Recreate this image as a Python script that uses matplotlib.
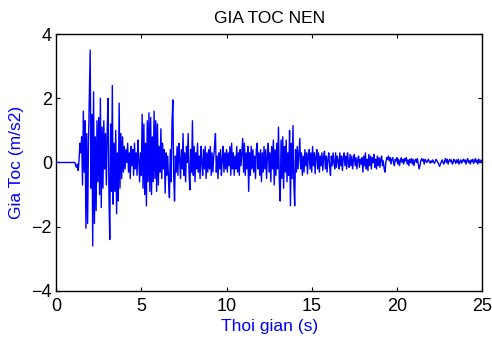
import numpy as np
import matplotlib
matplotlib.use('Agg')
import matplotlib.pyplot as plt

dt = 0.05
acc = [
    # 0 - 1 s
    0, 0, 0, 0, 0, 0, 0, 0, 0, 0, 0, 0, 0, 0, 0, 0, 0, 0, 0, 0,
    # 1 - 2 s
    0, 0, 0, -0.1, -0.15, -0.05, -0.25, 0.1, 0.6, 0.3, 0.8, -0.7, 1.6, -0.3, 1.3, -2.05, 0.9, -1.9, 0.6, 2.1,
    # 2 - 3 s
    3.5, -0.8, 1.5, -2.6, 2.2, -1.9, 0.8, -1.5, 1.3, -0.6, 1.4, -1.0, 2.0, -1.4, 1.1, -0.8, 1.3, -0.2, 0.9, -0.7,
    # 3 - 4 s
    1.0, 2.0, -1.0, -2.4, 1.2, -0.9, 2.4, -1.3, 0.6, -0.9, 1.0, -1.6, 0.3, -1.2, 1.85, -0.8, 0.9, -0.5, 0.8, -0.3,
    # 4 - 5 s
    0.5, -0.2, 0.4, 0.0, 0.6, -0.3, 0.3, -0.5, 0.5, -0.1, 0.4, -0.4, 0.6, -0.2, 0.3, -0.4, 0.7, 0.1, -0.6, 0.3,
    # 5 - 6 s
    -0.4, 1.5, -0.8, 1.2, -1.0, 0.6, -1.35, 1.3, -0.6, 1.55, -0.9, 1.4, -1.0, 0.8, -0.6, 1.6, -0.5, 1.3, -0.9, 1.2,
    # 6 - 7 s
    -0.7, 0.5, -0.3, 1.05, -0.5, 0.6, -0.2, 0.4, -0.95, 0.3, -0.4, 0.2, -0.6, -1.1, 0.4, -0.6, 1.2, 1.95, -0.4, -1.2,
    # 7 - 8 s
    0.2, -0.3, 0.5, -0.4, 0.6, 0.1, -0.5, 0.4, -0.2, 0.9, -0.4, 0.3, -0.6, 0.5, 0.0, 0.9, -0.3, -0.85, 0.4, -0.3,
    # 8 - 9 s
    1.3, -0.4, 0.5, -0.6, 0.3, -0.2, 0.6, -0.3, 0.2, -0.5, 0.5, 0.0, -0.4, 0.4, -0.2, 0.5, -0.5, 0.3, -0.3, 0.4,
    # 9 - 10 s
    -0.2, 0.5, -0.4, 0.3, -0.3, 0.2, 0.5, 0.9, -0.3, 0.2, -0.5, 0.3, -0.2, 0.4, -0.4, 0.1, 0.5, -0.3, 0.3, -0.2,
    # 10 - 11 s
    0.4, -0.3, 0.3, -0.1, 0.5, -0.4, 0.6, -0.2, 0.3, -0.4, 0.2, -0.2, 0.5, -0.3, 0.3, -0.4, 0.4, -0.1, 0.3, 0.75,
    # 11 - 12 s
    -0.3, 0.6, -0.4, 0.3, -0.2, 0.5, -0.9, 0.3, -0.4, 0.5, -0.2, 0.4, -0.3, 0.2, -0.5, 0.4, 0.6, -0.2, 0.3, -0.4,
    # 12 - 13 s
    0.4, -0.6, 0.3, -0.3, 0.5, -0.2, 0.4, -0.5, 0.2, 0.6, -0.3, 0.3, -0.6, 0.5, -0.2, 0.7, -0.7, 0.4, -0.4, 0.6,
    # 13 - 14 s
    -0.2, 1.1, -0.6, -1.2, 0.7, -0.5, 0.8, -0.8, 0.5, -0.3, 0.7, -0.6, 0.3, -0.4, 1.0, -1.35, 0.6, -0.5, 1.15, -0.6,
    # 14 - 15 s
    -1.35, 0.4, -0.3, 0.5, -0.2, 0.3, 0.75, -0.2, 0.3, -0.4, 0.2, -0.3, 0.4, -0.1, 0.3, -0.35, 0.2, 0.4, -0.2, 0.3,
    # 15 - 16 s
    -0.3, 0.5, -0.1, 0.3, -0.35, 0.2, 0.4, -0.2, 0.3, -0.3, 0.2, -0.1, 0.3, -0.25, 0.2, 0.35, -0.2, 0.2, -0.3, 0.1,
    # 16 - 17 s
    0.3, -0.1, -0.4, 0.2, -0.1, 0.3, 0.0, -0.2, 0.3, -0.15, 0.2, 0.05, -0.2, 0.3, -0.1, 0.2, -0.25, 0.15, 0.3, -0.1,
    # 17 - 18 s
    0.2, -0.2, 0.3, 0.0, -0.15, 0.25, -0.1, 0.2, -0.2, 0.1, 0.25, -0.1, 0.15, -0.2, 0.1, 0.2, -0.15, 0.1, -0.05, 0.15,
    # 18 - 19 s
    -0.3, 0.2, -0.1, 0.3, -0.2, 0.1, -0.25, 0.25, -0.1, 0.2, -0.2, 0.15, 0.0, 0.25, -0.15, 0.1, -0.2, 0.2, -0.1, 0.15,
    # 19 - 20 s
    -0.15, 0.1, 0.2, -0.1, 0.05, -0.2, -0.3, 0.0, 0.15, 0.1, 0.2, 0.05, 0.15, -0.05, 0.1, 0.15, 0.0, -0.1, 0.1, 0.05,
    # 20 - 21 s
    0.15, -0.05, 0.1, -0.1, 0.05, 0.15, 0.0, 0.1, -0.05, 0.12, 0.05, 0.15, -0.05, 0.08, -0.1, 0.1, 0.0, 0.12, -0.05, 0.1,
    # 21 - 22 s
    -0.1, 0.05, 0.1, 0.0, 0.12, -0.05, -0.2, -0.1, 0.05, 0.12, 0.05, 0.1, -0.05, 0.1, 0.05, 0.0, 0.05, 0.1, 0.02, -0.02,
    # 22 - 23 s
    0.05, 0.0, 0.08, 0.02, -0.03, 0.03, 0.1, 0.05, 0.0, -0.05, -0.12, -0.05, 0.02, 0.08, 0.0, -0.05, 0.05, 0.12, 0.0, 0.1,
    # 23 - 24 s
    -0.05, 0.05, 0.1, 0.02, 0.08, -0.05, 0.0, 0.1, 0.05, -0.03, 0.08, 0.0, 0.1, -0.05, 0.02, 0.08, -0.02, 0.05, 0.1, 0.02,
    # 24 - 25 s
    0.08, -0.05, 0.05, 0.12, 0.0, 0.05, -0.05, 0.08, 0.02, 0.1, -0.03, 0.05, 0.12, 0.0, 0.08, -0.05, 0.1, 0.05, 0.0, 0.08,
    0.05,
]
t = np.arange(len(acc)) * dt

xticks = [0, 5, 10, 15, 20, 25]
yticks = [-4, -2, 0, 2, 4]

plt.rcParams['font.family'] = ['Liberation Sans', 'DejaVu Sans']

fig = plt.figure(figsize=(4.92, 3.41), dpi=100)
ax = fig.add_axes([0.114, 0.147, 0.866, 0.753])
ax.plot(t, acc, color='#0000ff', lw=1.0)

ax.set_xlim(0, 25)
ax.set_ylim(-4, 4)
ax.set_xticks(xticks)
ax.set_yticks(yticks)
ax.tick_params(direction='in', top=True, right=True, length=3, width=0.8,
               labelsize=13)
ax.tick_params(axis='x', pad=5)
ax.tick_params(axis='y', pad=3)
for s in ax.spines.values():
    s.set_linewidth(1.0)

ax.set_title('GIA TOC NEN', fontsize=12.5, pad=8)
ax.set_xlabel('Thoi gian (s)', fontsize=12.5, color='#0000ff', labelpad=3)
ax.set_ylabel('Gia Toc (m/s2)', fontsize=12.5, color='#0000ff', labelpad=5)

fig.savefig('out.png', dpi=100)
